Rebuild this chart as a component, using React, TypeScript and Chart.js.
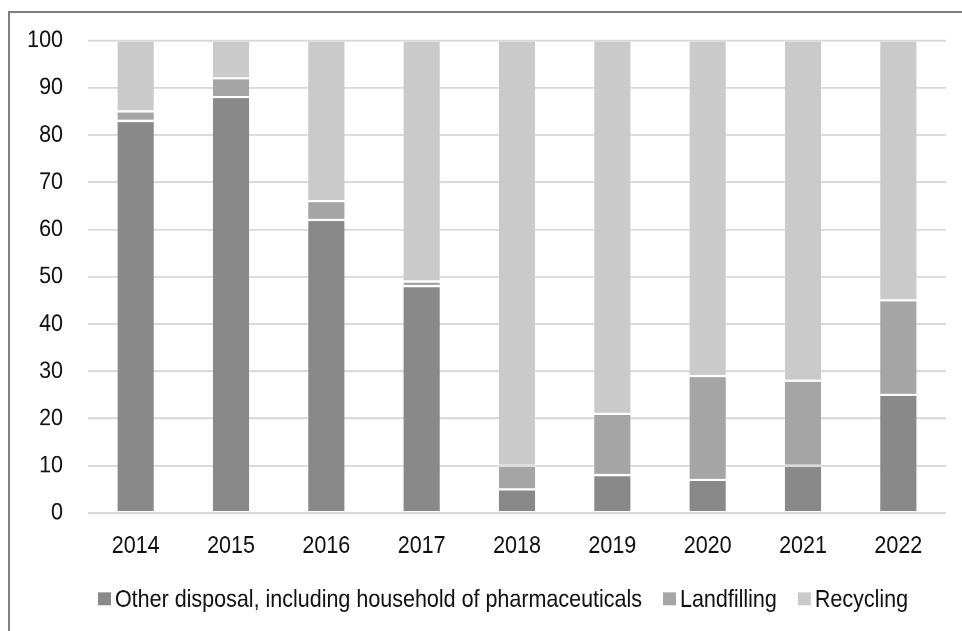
import React, { useEffect, useRef } from "react";
import { Chart, registerables } from "chart.js";

Chart.register(...registerables);

const years = ["2014", "2015", "2016", "2017", "2018", "2019", "2020", "2021", "2022"];
const otherDisposal = [83, 88, 62, 48, 5, 8, 7, 10, 25];
const landfilling = [2, 4, 4, 1, 5, 13, 22, 18, 20];
const recycling = [15, 8, 34, 51, 90, 79, 71, 72, 55];
const yTicks = [0, 10, 20, 30, 40, 50, 60, 70, 80, 90, 100];

const seriesNames = [
  "Other disposal, including household of pharmaceuticals",
  "Landfilling",
  "Recycling",
];
const seriesColors = ["#898989", "#a5a5a5", "#cacaca"];

const FONT_FAMILY = "'Liberation Sans', Arial, sans-serif";
const FONT_SIZE = 21.5;

// The chart is laid out on a shorter drawing surface and shown taller,
// which gives the tall, narrow lettering of the printed figure.
const VIEW_W = 962;
const VIEW_H = 631;
const DRAW_H = 549;

// Legend row drawn directly on the canvas: swatch, tight gap, label.
const bottomLegend = {
  id: "bottomLegend",
  afterDraw(chart: Chart) {
    const ctx = chart.ctx;
    const boxW = 13;
    const boxH = 11.3;
    const boxGap = 4;
    const itemGap = 21;
    const centerX = 503;
    const centerY = 521;
    ctx.save();
    ctx.font = `${FONT_SIZE}px ${FONT_FAMILY}`;
    ctx.textBaseline = "middle";
    ctx.textAlign = "left";
    const items = chart.data.datasets.map((ds) => ({
      label: String(ds.label),
      color: String(ds.backgroundColor),
      w: ctx.measureText(String(ds.label)).width,
    }));
    const total =
      items.reduce((s, it) => s + boxW + boxGap + it.w, 0) + itemGap * (items.length - 1);
    let x = centerX - total / 2;
    for (const it of items) {
      ctx.fillStyle = it.color;
      ctx.fillRect(x, centerY - boxH / 2, boxW, boxH);
      x += boxW + boxGap;
      ctx.fillStyle = "#111111";
      ctx.fillText(it.label, x, centerY + 1);
      x += it.w + itemGap;
    }
    ctx.restore();
  },
};

export default function App() {
  const canvasRef = useRef<HTMLCanvasElement | null>(null);

  useEffect(() => {
    const canvas = canvasRef.current;
    if (!canvas) return;
    const values = [otherDisposal, landfilling, recycling];
    const chart = new Chart(canvas, {
      type: "bar",
      data: {
        labels: years,
        datasets: values.map((data, i) => ({
          label: seriesNames[i],
          data,
          backgroundColor: seriesColors[i],
          borderColor: "rgba(255,255,255,0.2)",
          borderWidth: 1,
          borderSkipped: false,
          barPercentage: 0.4,
          categoryPercentage: 1,
        })),
      },
      options: {
        responsive: false,
        animation: false,
        devicePixelRatio: 2,
        layout: { padding: { top: 35.2, right: 16, bottom: 62.7, left: 0 } },
        plugins: {
          legend: { display: false },
          tooltip: { enabled: false },
        },
        scales: {
          x: {
            stacked: true,
            grid: { display: false },
            border: { display: false },
            ticks: {
              color: "#111111",
              padding: 8,
              font: { family: FONT_FAMILY, size: FONT_SIZE },
            },
            afterFit(scale: any) {
              scale.height = 40;
              scale.paddingLeft = 0;
              scale.paddingRight = 0;
            },
          },
          y: {
            stacked: true,
            min: 0,
            max: 100,
            afterBuildTicks(scale: any) {
              scale.ticks = yTicks.map((v) => ({ value: v }));
            },
            grid: { color: "#d9d9d9", lineWidth: 1.7, drawTicks: false },
            border: { display: false },
            ticks: {
              color: "#111111",
              padding: 25,
              font: { family: FONT_FAMILY, size: FONT_SIZE },
            },
            afterFit(scale: any) {
              scale.width = 88;
              scale.paddingTop = 0;
              scale.paddingBottom = 0;
            },
          },
        },
      },
      plugins: [bottomLegend],
    });
    return () => chart.destroy();
  }, []);

  return (
    <div>
      <div
        style={{
          position: "absolute",
          left: 8,
          top: 11,
          width: 952,
          height: 618,
          borderLeft: "2px solid #7f7f7f",
          borderTop: "2px solid #7f7f7f",
        }}
      />
      <canvas
        ref={canvasRef}
        width={VIEW_W}
        height={DRAW_H}
        style={{
          position: "absolute",
          left: 0,
          top: 0,
          width: VIEW_W,
          height: VIEW_H,
          display: "block",
        }}
      />
    </div>
  );
}
